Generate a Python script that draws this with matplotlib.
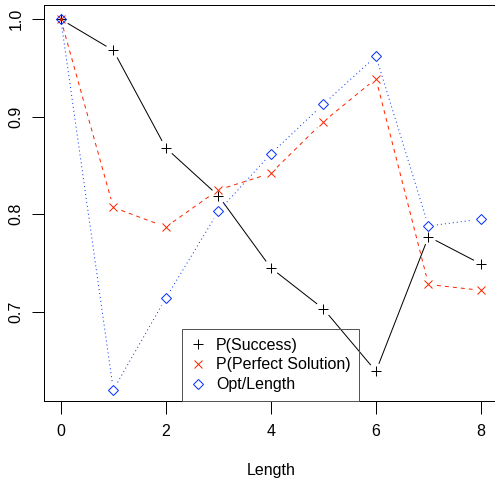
import numpy as np
import matplotlib
matplotlib.use("Agg")
import matplotlib.pyplot as plt
from matplotlib.lines import Line2D

plt.rcParams['font.family'] = ['Liberation Sans', 'DejaVu Sans']
plt.rcParams['lines.scale_dashes'] = False

length = [0, 1, 2, 3, 4, 5, 6, 7, 8]
p_success = [1.000, 0.968, 0.868, 0.819, 0.745, 0.703, 0.639, 0.777, 0.749]
p_perfect = [1.000, 0.807, 0.787, 0.825, 0.842, 0.895, 0.939, 0.728, 0.722]
opt_length = [1.000, 0.620, 0.714, 0.803, 0.862, 0.913, 0.962, 0.788, 0.795]

labels = ['P(Success)', 'P(Perfect Solution)', 'Opt/Length']
xticks = [0, 2, 4, 6, 8]
yticks = [0.7, 0.8, 0.9, 1.0]
xlabel = 'Length'

RED = '#FF2600'
BLUE = '#0433FF'
PX = 72 / 100.0  # one pixel in points
FS = 11.5

fig = plt.figure(figsize=(4.95, 4.80), dpi=100)
ax = fig.add_axes([44 / 495, 1 - 401 / 480, (497.8 - 44) / 495, (401 - 4.5) / 480])
ax.set_xlim(-0.32, 8.32)
ax.set_ylim(0.6085, 1.0151)

def draw_b(x, y, color, dashes, marker, ms, gap=8.5):
    # R type="b": segments with gaps around points
    fig.canvas.draw()
    pts = ax.transData.transform(np.column_stack([x, y]))
    inv = ax.transData.inverted()
    for i in range(len(pts) - 1):
        p0, p1 = pts[i], pts[i + 1]
        d = p1 - p0
        L = np.hypot(*d)
        if L <= 2 * gap:
            continue
        u = d / L
        a = inv.transform(p0 + u * gap)
        b = inv.transform(p1 - u * gap)
        ln = Line2D([a[0], b[0]], [a[1], b[1]], color=color, lw=1 * PX)
        if dashes is not None:
            ln.set_dashes(dashes)
        ax.add_line(ln)
    ax.plot(x, y, linestyle='none', marker=marker, ms=ms, mec=color, mfc='none',
            mew=1 * PX, color=color)

draw_b(length, p_success, 'black', None, '+', 10 * PX)
draw_b(length, p_perfect, RED, (4 * PX, 4 * PX), 'x', 8 * PX)
draw_b(length, opt_length, BLUE, (1 * PX, 3 * PX), 'D', 7.6 * PX)

ax.set_xticks(xticks)
ax.set_xticklabels([str(t) for t in xticks])
ax.set_yticks(yticks)
ax.set_yticklabels([f'{t:.1f}' for t in yticks], rotation=90, va='center')
ax.tick_params(axis='both', direction='out', length=9, width=1 * PX, labelsize=FS,
               color='black')
ax.tick_params(axis='x', pad=7.5)
ax.tick_params(axis='y', pad=5.5)
for s in ax.spines.values():
    s.set_linewidth(1 * PX)
    s.set_color('black')

ax.set_xlabel(xlabel, fontsize=FS, labelpad=17)

handles = [
    Line2D([], [], linestyle='none', marker='+', ms=10 * PX, mec='black', mew=1 * PX),
    Line2D([], [], linestyle='none', marker='x', ms=8 * PX, mec=RED, mew=1 * PX),
    Line2D([], [], linestyle='none', marker='D', ms=7.6 * PX, mec=BLUE, mfc='none', mew=1 * PX),
]
leg = ax.legend(handles, labels, loc='lower center', bbox_to_anchor=(0.5, 0.0),
                fontsize=FS, frameon=True, fancybox=False, framealpha=1,
                edgecolor='#555555', facecolor='none', borderpad=0.55,
                labelspacing=0.3, handlelength=0.9, handletextpad=0.65,
                borderaxespad=0)
leg.get_frame().set_linewidth(1 * PX)

fig.savefig('out.png', dpi=100)
